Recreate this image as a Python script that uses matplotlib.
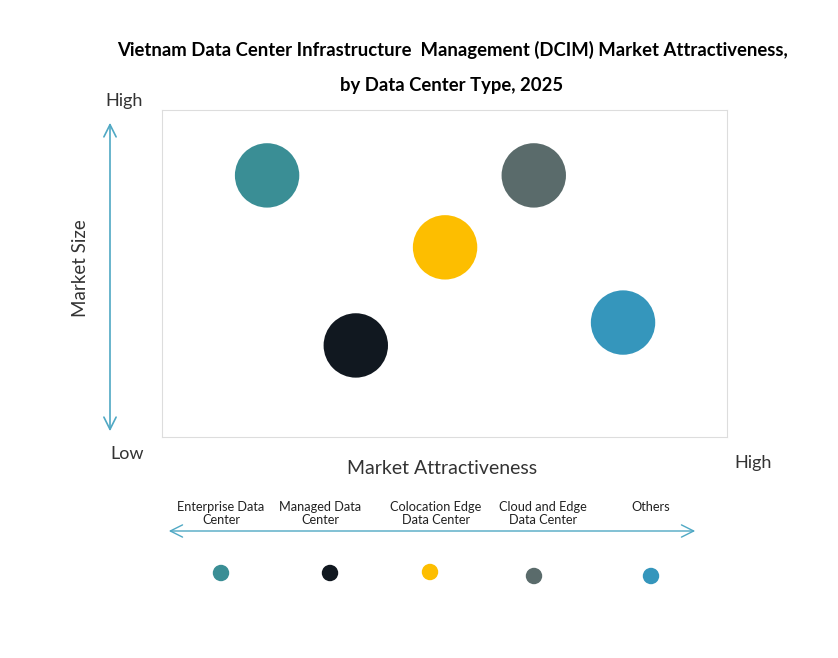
import matplotlib.pyplot as plt

# Данные
types = ["Enterprise Data\nCenter", "Managed Data\nCenter", "Colocation Edge\nData Center",
         "Cloud and Edge\nData Center", "Others"]
attractiveness = [1.86, 3.43, 5.01, 6.58, 8.16]
market_size = [8.0, 2.8, 5.8, 8.0, 3.5]
colors = ["#3A8E95", "#111820", "#FDBE00", "#5A6B6B", "#3596BC"]

W, H = 838, 658
fig = plt.figure(figsize=(W / 100, H / 100), dpi=100)
plt.rcParams['font.family'] = ['Lato', 'DejaVu Sans']

# Основная область с пузырями
ax = fig.add_axes([162 / W, 1 - 437 / H, 565 / W, 327 / H])
ax.scatter(attractiveness, market_size, s=2150, c=colors, edgecolors='none', zorder=3)
ax.set_xlim(0, 10)
ax.set_ylim(0, 10)
ax.set_xticks([])
ax.set_yticks([])
for sp in ax.spines.values():
    sp.set_color('#DDDDDD')
    sp.set_linewidth(0.8)

# Слой для подписей в пикселях
ov = fig.add_axes([0, 0, 1, 1], facecolor='none')
ov.set_xlim(0, W)
ov.set_ylim(H, 0)
ov.axis('off')

ov.text(452, 50, "Vietnam Data Center Infrastructure  Management (DCIM) Market Attractiveness,",
        ha='center', va='center', fontsize=13.3, fontweight='bold')
ov.text(452, 85, "by Data Center Type, 2025", ha='center', va='center',
        fontsize=13.3, fontweight='bold')

arrow_c = '#4FA8C4'
ov.annotate('', xy=(110, 120), xytext=(110, 434),
            arrowprops=dict(arrowstyle='<->', color=arrow_c, lw=1.2, mutation_scale=22))
ov.text(124, 101, "High", ha='center', va='center', fontsize=13, color='#333333')
ov.text(127, 454, "Low", ha='center', va='center', fontsize=13, color='#333333')
ov.text(80, 268, "Market Size", ha='center', va='center', rotation=90,
        fontsize=13.5, color='#333333')
ov.text(442, 469, "Market Attractiveness", ha='center', va='center',
        fontsize=14, color='#333333')
ov.text(753, 463, "High", ha='center', va='center', fontsize=13, color='#333333')

# Легенда
ov.annotate('', xy=(166, 531), xytext=(698, 531),
            arrowprops=dict(arrowstyle='<->', color=arrow_c, lw=1.0, mutation_scale=22))
leg_x = [221, 330, 430, 534, 651]
leg_y = [573, 573, 572, 576, 576]
lab_x = [221, 320, 436, 543, 651]
for i in range(len(types)):
    ov.text(lab_x[i], 501, types[i], ha='center', va='top', fontsize=9.2,
            color='#222222', linespacing=1.05)
    ov.scatter(leg_x[i], leg_y[i], s=140, c=colors[i], edgecolors='none')

fig.savefig('out.png', dpi=100)
